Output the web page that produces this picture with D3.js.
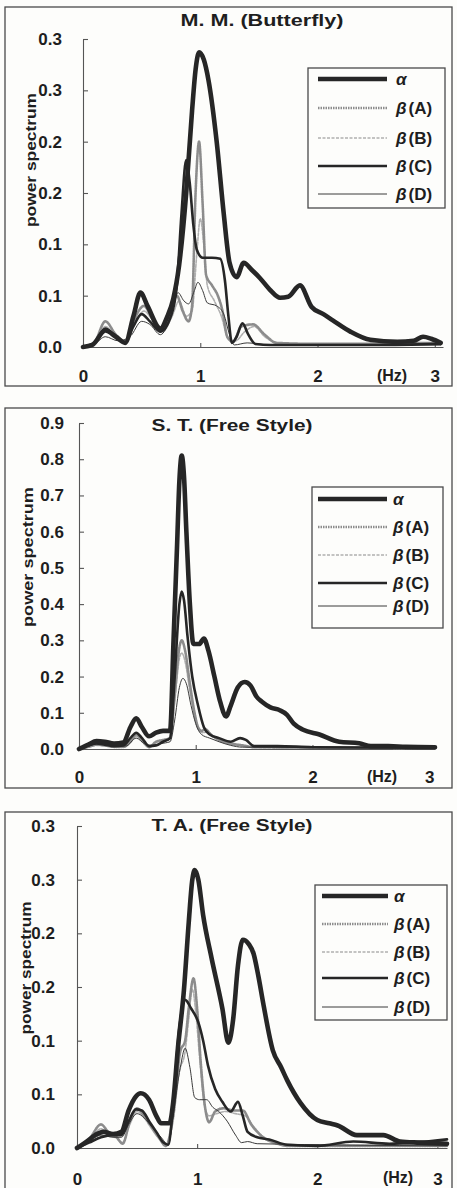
<!DOCTYPE html>
<html><head><meta charset="utf-8">
<script src="https://cdn.jsdelivr.net/npm/d3@7"></script>
<style>
body{margin:0;background:#fff}
svg{display:block}
text{font-family:"Liberation Sans",Arial,Helvetica,sans-serif;fill:#1e1e1e}
</style>
</head><body>
<svg id="c" width="457" height="1188"></svg>
<script>
// ---------- DATA ----------
const seriesNames = ["α", "β(A)", "β(B)", "β(C)", "β(D)"];
const titles = ["M. M. (Butterfly)", "S. T. (Free Style)", "T. A. (Free Style)"];
const xTickValues = [0, 1, 2, 3];
const xTickLabels = ["0", "1", "2", "3"];
const yTicksMM = [0, 0.05, 0.1, 0.15, 0.2, 0.25, 0.3];
const yLabelsMM = ["0.0", "0.1", "0.1", "0.2", "0.2", "0.3", "0.3"];
const yTicksST = [0, 0.1, 0.2, 0.3, 0.4, 0.5, 0.6, 0.7, 0.8, 0.9];
const yLabelsST = ["0.0", "0.1", "0.2", "0.3", "0.4", "0.5", "0.6", "0.7", "0.8", "0.9"];
const yTicksTA = [0, 0.05, 0.1, 0.15, 0.2, 0.25, 0.3];
const yLabelsTA = ["0.0", "0.1", "0.1", "0.2", "0.2", "0.3", "0.3"];

// [frequency Hz, power]
const mmAlpha = [[0,0],[0.08,0.002],[0.19,0.016],[0.28,0.01],[0.36,0.004],[0.43,0.03],[0.49,0.053],[0.55,0.04],[0.66,0.018],[0.72,0.03],[0.77,0.047],[0.82,0.08],[0.88,0.15],[0.93,0.23],[0.96,0.27],[0.99,0.287],[1.03,0.28],[1.07,0.26],[1.14,0.2],[1.2,0.13],[1.25,0.082],[1.31,0.068],[1.37,0.082],[1.44,0.075],[1.51,0.067],[1.6,0.055],[1.68,0.048],[1.75,0.049],[1.85,0.06],[1.95,0.039],[2.05,0.032],[2.13,0.026],[2.28,0.015],[2.45,0.007],[2.68,0.005],[2.82,0.006],[2.9,0.01],[2.97,0.008],[3.05,0.004]];
const mmBetaA = [[0,0],[0.1,0.005],[0.19,0.025],[0.28,0.012],[0.36,0.005],[0.43,0.025],[0.52,0.04],[0.58,0.03],[0.66,0.015],[0.74,0.03],[0.8,0.05],[0.85,0.035],[0.9,0.025],[0.93,0.04],[0.96,0.15],[0.99,0.2],[1.02,0.14],[1.05,0.07],[1.1,0.06],[1.15,0.05],[1.19,0.035],[1.23,0.01],[1.28,0.005],[1.35,0.02],[1.45,0.022],[1.55,0.012],[1.65,0.004],[2.0,0.003],[3.05,0.004]];
const mmBetaB = [[0,0],[0.1,0.004],[0.19,0.02],[0.28,0.01],[0.36,0.004],[0.43,0.02],[0.52,0.035],[0.6,0.025],[0.68,0.015],[0.76,0.03],[0.82,0.045],[0.88,0.03],[0.93,0.035],[0.97,0.09],[1.0,0.125],[1.03,0.1],[1.06,0.06],[1.12,0.045],[1.18,0.03],[1.24,0.008],[1.3,0.006],[1.38,0.015],[1.46,0.02],[1.55,0.01],[1.7,0.003],[3.05,0.003]];
const mmBetaC = [[0,0],[0.1,0.004],[0.19,0.018],[0.28,0.01],[0.36,0.004],[0.43,0.02],[0.5,0.032],[0.57,0.025],[0.66,0.015],[0.75,0.03],[0.8,0.06],[0.84,0.13],[0.88,0.182],[0.91,0.16],[0.94,0.12],[0.97,0.095],[1.02,0.087],[1.1,0.087],[1.17,0.086],[1.21,0.065],[1.24,0.03],[1.27,0.004],[1.31,0.01],[1.36,0.023],[1.41,0.012],[1.47,0.003],[1.6,0.002],[2.0,0.002],[2.5,0.002],[3.05,0.003]];
const mmBetaD = [[0,0],[0.1,0.003],[0.19,0.01],[0.3,0.006],[0.4,0.01],[0.5,0.025],[0.57,0.022],[0.66,0.012],[0.75,0.03],[0.81,0.053],[0.86,0.045],[0.9,0.042],[0.95,0.055],[0.98,0.063],[1.02,0.055],[1.06,0.043],[1.14,0.04],[1.2,0.032],[1.25,0.012],[1.29,0.002],[1.4,0.004],[1.6,0.002],[3.05,0.002]];

const stAlpha = [[0,0],[0.08,0.012],[0.15,0.022],[0.22,0.02],[0.3,0.015],[0.38,0.018],[0.44,0.06],[0.49,0.085],[0.54,0.06],[0.6,0.035],[0.66,0.045],[0.72,0.05],[0.78,0.05],[0.81,0.3],[0.84,0.56],[0.86,0.74],[0.88,0.81],[0.9,0.75],[0.92,0.6],[0.95,0.4],[0.98,0.29],[1.03,0.29],[1.07,0.305],[1.11,0.27],[1.16,0.2],[1.21,0.13],[1.26,0.09],[1.3,0.12],[1.36,0.17],[1.42,0.185],[1.47,0.175],[1.52,0.145],[1.57,0.13],[1.64,0.115],[1.72,0.107],[1.78,0.095],[1.84,0.07],[1.92,0.053],[2.06,0.04],[2.23,0.02],[2.4,0.016],[2.5,0.008],[2.65,0.008],[2.8,0.006],[3.05,0.005]];
const stBetaA = [[0,0],[0.08,0.006],[0.15,0.012],[0.22,0.01],[0.3,0.006],[0.38,0.006],[0.44,0.02],[0.49,0.04],[0.55,0.02],[0.6,0.005],[0.66,0.02],[0.72,0.025],[0.78,0.03],[0.82,0.15],[0.86,0.28],[0.88,0.3],[0.91,0.27],[0.95,0.18],[0.99,0.1],[1.02,0.06],[1.05,0.05],[1.08,0.055],[1.13,0.04],[1.2,0.025],[1.3,0.015],[1.4,0.01],[1.5,0.005],[3.05,0.003]];
const stBetaB = [[0,0],[0.08,0.005],[0.15,0.01],[0.22,0.009],[0.3,0.005],[0.38,0.005],[0.44,0.018],[0.49,0.035],[0.55,0.018],[0.6,0.006],[0.66,0.018],[0.72,0.022],[0.78,0.028],[0.82,0.13],[0.86,0.25],[0.88,0.265],[0.91,0.24],[0.95,0.16],[0.99,0.09],[1.02,0.055],[1.06,0.045],[1.1,0.048],[1.15,0.035],[1.22,0.022],[1.32,0.012],[1.42,0.008],[1.5,0.004],[3.05,0.003]];
const stBetaC = [[0,0],[0.08,0.01],[0.15,0.015],[0.22,0.012],[0.3,0.008],[0.38,0.01],[0.44,0.03],[0.49,0.045],[0.54,0.03],[0.6,0.008],[0.66,0.01],[0.72,0.02],[0.78,0.03],[0.82,0.2],[0.86,0.4],[0.88,0.435],[0.9,0.41],[0.93,0.31],[0.97,0.2],[1.02,0.12],[1.07,0.06],[1.12,0.04],[1.2,0.03],[1.3,0.02],[1.38,0.03],[1.43,0.025],[1.5,0.008],[1.7,0.008],[2.0,0.005],[2.5,0.004],[3.05,0.004]];
const stBetaD = [[0,0],[0.1,0.01],[0.2,0.015],[0.3,0.01],[0.4,0.008],[0.49,0.03],[0.56,0.015],[0.62,0.01],[0.7,0.015],[0.78,0.02],[0.82,0.08],[0.86,0.17],[0.89,0.195],[0.92,0.18],[0.96,0.12],[1.0,0.07],[1.05,0.04],[1.12,0.03],[1.2,0.02],[1.3,0.01],[1.4,0.005],[3.05,0.003]];

const taAlpha = [[0,0],[0.08,0.006],[0.15,0.012],[0.22,0.015],[0.3,0.013],[0.37,0.015],[0.43,0.035],[0.49,0.048],[0.53,0.051],[0.6,0.045],[0.66,0.03],[0.7,0.023],[0.77,0.023],[0.8,0.042],[0.84,0.093],[0.89,0.147],[0.93,0.21],[0.96,0.25],[0.98,0.259],[1.01,0.25],[1.05,0.217],[1.12,0.177],[1.21,0.13],[1.26,0.098],[1.3,0.12],[1.34,0.17],[1.38,0.194],[1.43,0.19],[1.47,0.181],[1.51,0.16],[1.55,0.135],[1.63,0.091],[1.7,0.075],[1.75,0.063],[1.86,0.042],[2.0,0.026],[2.1,0.023],[2.17,0.021],[2.33,0.012],[2.45,0.012],[2.55,0.012],[2.69,0.006],[2.85,0.005],[3.08,0.004]];
const taBetaA = [[0,0],[0.1,0.008],[0.2,0.022],[0.26,0.015],[0.33,0.01],[0.38,0.004],[0.44,0.025],[0.5,0.037],[0.56,0.03],[0.62,0.02],[0.68,0.01],[0.74,0.002],[0.8,0.03],[0.86,0.09],[0.9,0.1],[0.93,0.13],[0.97,0.158],[1.0,0.13],[1.03,0.08],[1.07,0.035],[1.1,0.024],[1.15,0.034],[1.22,0.037],[1.3,0.035],[1.38,0.035],[1.45,0.022],[1.55,0.01],[1.65,0.005],[1.75,0.002],[3.08,0.002]];
const taBetaB = [[0,0],[0.1,0.007],[0.2,0.018],[0.26,0.013],[0.33,0.009],[0.38,0.005],[0.44,0.022],[0.5,0.034],[0.56,0.028],[0.62,0.018],[0.68,0.009],[0.74,0.003],[0.8,0.025],[0.85,0.07],[0.9,0.09],[0.93,0.12],[0.96,0.148],[0.99,0.125],[1.02,0.085],[1.06,0.04],[1.1,0.03],[1.16,0.032],[1.24,0.034],[1.32,0.032],[1.4,0.03],[1.47,0.02],[1.56,0.009],[1.7,0.003],[3.08,0.002]];
const taBetaC = [[0,0],[0.1,0.005],[0.2,0.01],[0.3,0.012],[0.37,0.012],[0.43,0.025],[0.49,0.036],[0.54,0.035],[0.6,0.025],[0.66,0.015],[0.72,0.005],[0.76,0.003],[0.8,0.04],[0.85,0.11],[0.9,0.138],[0.95,0.13],[1.01,0.117],[1.05,0.1],[1.09,0.077],[1.15,0.055],[1.21,0.043],[1.28,0.034],[1.34,0.043],[1.38,0.03],[1.42,0.015],[1.5,0.01],[1.6,0.008],[1.75,0.003],[2.0,0.002],[2.3,0.006],[2.6,0.004],[3.08,0.008]];
const taBetaD = [[0,0],[0.1,0.006],[0.2,0.012],[0.3,0.01],[0.37,0.01],[0.43,0.022],[0.5,0.032],[0.56,0.028],[0.62,0.02],[0.7,0.01],[0.76,0.003],[0.8,0.03],[0.86,0.075],[0.9,0.093],[0.94,0.075],[0.98,0.047],[1.02,0.045],[1.08,0.045],[1.13,0.038],[1.18,0.034],[1.25,0.025],[1.32,0.012],[1.37,0.005],[1.42,0.006],[1.5,0.004],[3.08,0.002]];

// ---------- STYLE / LAYOUT ----------
const styles = {
  "α":    {stroke:"#262626", width:4.6, dash:null},
  "β(A)": {stroke:"#8c8c8c", width:2.6, dash:"1.5,1"},
  "β(B)": {stroke:"#b0b0b0", width:1.6, dash:"3,1.5"},
  "β(C)": {stroke:"#262626", width:2.6, dash:null},
  "β(D)": {stroke:"#3a3a3a", width:1.0, dash:null}
};
const drawOrder = ["β(B)", "β(A)", "β(D)", "β(C)", "α"];

const panels = [
  {title:titles[0], series:{"α":mmAlpha,"β(A)":mmBetaA,"β(B)":mmBetaB,"β(C)":mmBetaC,"β(D)":mmBetaD},
   yTicks:yTicksMM, yLabels:yLabelsMM, yMax:0.3,
   frame:[5,7,447,379], xr:[83,443], xMax:3.07, yr:[347,39], yPad:21, xPad:23,
   titleX:262, titleY:26, titleLen:163,
   ylabX:30, ylabY:160, ylabLen:134, hzX:392, hzY:381,
   leg:{x0:308,y0:68,w:137,h:140,lx0:318,lx1:387,tx:396,rows:[79,108,138,166,194]}},
  {title:titles[1], series:{"α":stAlpha,"β(A)":stBetaA,"β(B)":stBetaB,"β(C)":stBetaC,"β(D)":stBetaD},
   yTicks:yTicksST, yLabels:yLabelsST, yMax:0.9,
   frame:[5,408,447,380], xr:[79,435], xMax:3.05, yr:[749,423], yPad:15, xPad:22,
   titleX:232, titleY:431, titleLen:161,
   ylabX:27, ylabY:557, ylabLen:140, hzX:382, hzY:782,
   leg:{x0:312,y0:487,w:131,h:141,lx0:318,lx1:387,tx:393,rows:[499,527,555,583,606]}},
  {title:titles[2], series:{"α":taAlpha,"β(A)":taBetaA,"β(B)":taBetaB,"β(C)":taBetaC,"β(D)":taBetaD},
   yTicks:yTicksTA, yLabels:yLabelsTA, yMax:0.3,
   frame:[5,812,447,385], xr:[77,447], xMax:3.08, yr:[1148,826], yPad:22, xPad:25,
   titleX:232, titleY:831, titleLen:161,
   ylabX:25, ylabY:968, ylabLen:133, hzX:398, hzY:1183,
   leg:{x0:315,y0:885,w:132,h:135,lx0:322,lx1:388,tx:394,rows:[896,924,952,978,1007]}}
];

const svg = d3.select("#c");
svg.append("rect").attr("width",457).attr("height",1188).attr("fill","#fdfdfb");

panels.forEach(p => {
  const g = svg.append("g");
  g.append("rect").attr("x",p.frame[0]).attr("y",p.frame[1]).attr("width",p.frame[2]).attr("height",p.frame[3])
    .attr("fill","none").attr("stroke","#4a4a4a").attr("stroke-width",1.3);

  const x = d3.scaleLinear().domain([0,p.xMax]).range(p.xr);
  const y = d3.scaleLinear().domain([0,p.yMax]).range(p.yr);

  const yAxis = d3.axisLeft(y).tickValues(p.yTicks)
    .tickFormat((d,i)=>p.yLabels[i]).tickSizeInner(-5).tickSizeOuter(0).tickPadding(p.yPad);
  const ya = g.append("g").attr("transform",`translate(${p.xr[0]},0)`).call(yAxis);
  ya.selectAll("path,line").attr("stroke","#555").attr("stroke-width",1.1);
  ya.selectAll("text").attr("font-size",17).attr("font-weight","bold").attr("fill","#1e1e1e")
    .attr("font-family","'Liberation Sans',Arial,sans-serif");

  const xAxis = d3.axisBottom(x).tickValues(xTickValues)
    .tickFormat((d,i)=>xTickLabels[i]).tickSizeInner(-4).tickSizeOuter(0).tickPadding(p.xPad);
  const xa = g.append("g").attr("transform",`translate(0,${p.yr[0]})`).call(xAxis);
  xa.selectAll("path,line").attr("stroke","#555").attr("stroke-width",1.1);
  xa.selectAll("text").attr("font-size",17).attr("font-weight","bold").attr("fill","#1e1e1e")
    .attr("font-family","'Liberation Sans',Arial,sans-serif");

  g.append("text").attr("x",p.hzX).attr("y",p.hzY).attr("text-anchor","middle")
    .attr("font-size",16).attr("font-weight","bold").text("(Hz)");

  g.append("text").attr("x",p.titleX).attr("y",p.titleY).attr("text-anchor","middle")
    .attr("font-size",16).attr("font-weight","bold")
    .attr("textLength",p.titleLen).attr("lengthAdjust","spacingAndGlyphs").text(p.title);

  g.append("text").attr("transform",`translate(${p.ylabX},${p.ylabY}) rotate(-90)`)
    .attr("text-anchor","middle").attr("dominant-baseline","central")
    .attr("font-size",15).attr("font-weight","bold")
    .attr("textLength",p.ylabLen).attr("lengthAdjust","spacingAndGlyphs").text("power spectrum");

  const line = d3.line().x(d=>x(d[0])).y(d=>y(d[1])).curve(d3.curveMonotoneX);
  drawOrder.forEach(name => {
    const s = styles[name];
    g.append("path").datum(p.series[name]).attr("d",line)
      .attr("fill","none").attr("stroke",s.stroke).attr("stroke-width",s.width)
      .attr("stroke-linejoin","round").attr("stroke-linecap","round")
      .attr("stroke-dasharray",s.dash);
  });

  // legend
  const L = p.leg;
  g.append("rect").attr("x",L.x0).attr("y",L.y0).attr("width",L.w).attr("height",L.h)
    .attr("fill","#fdfdfb").attr("stroke","#4a4a4a").attr("stroke-width",1.3);
  seriesNames.forEach((name,i) => {
    const s = styles[name];
    g.append("line").attr("x1",L.lx0).attr("x2",L.lx1).attr("y1",L.rows[i]).attr("y2",L.rows[i])
      .attr("stroke",s.stroke).attr("stroke-width",s.width).attr("stroke-dasharray",s.dash);
    const t = g.append("text").attr("x",L.tx).attr("y",L.rows[i]+6)
      .attr("font-size",17).attr("font-weight","bold");
    if (name === "α") {
      t.append("tspan").attr("font-style","italic").text("α");
    } else {
      t.append("tspan").attr("font-style","italic").text("β");
      t.append("tspan").attr("dx",2).text(name.slice(1));
    }
  });
});
</script>
</body></html>
